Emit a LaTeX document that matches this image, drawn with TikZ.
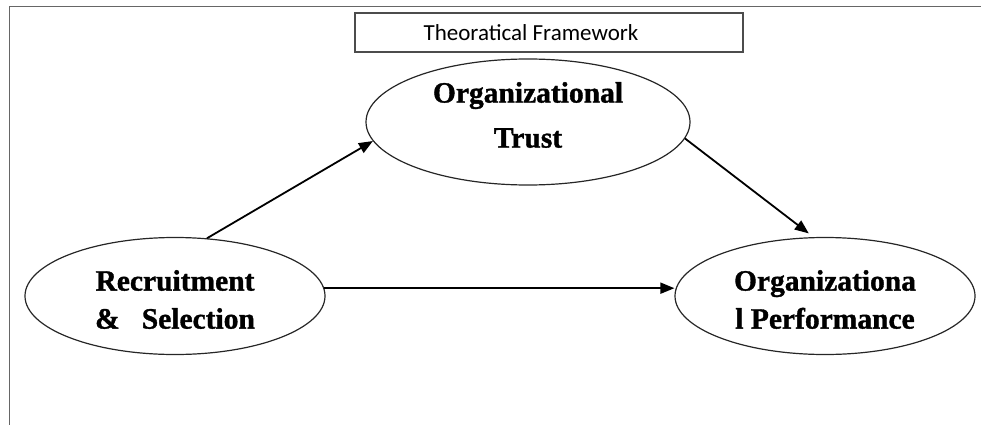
\documentclass[tikz,border=0pt]{standalone}
\usepackage{fontspec}
\setmainfont{Liberation Serif}
\newfontfamily\titlefont{Carlito}
\newfontfamily\heavyserif[FakeBold=1.2]{Liberation Serif Bold}
\usetikzlibrary{shapes.geometric,arrows.meta}
\begin{document}
\begin{tikzpicture}[x=1pt,y=-1pt,
  construct/.style={draw=black!85,line width=1.2pt,ellipse,inner sep=0pt},
  wording/.style={align=center,inner sep=0pt,
    font=\heavyserif\fontsize{29.5}{38}\selectfont},
  titlebox/.style={draw=black!70,line width=1.8pt,minimum width=388pt,
    minimum height=39pt,inner sep=0pt,font=\titlefont\fontsize{23}{26}\selectfont},
  link/.style={line width=1.8pt,-{Triangle[length=14pt,width=11pt]}},
  frame/.style={draw=black!60,line width=1.5pt}]
  \useasboundingbox (0,0) rectangle (981,425);
  % page frame
  \draw[frame] (9.5,425) -- (9.5,6.5) -- (981,6.5);
  % heading
  \node[titlebox] (title) at (549,32.5) {Theoratical Framework\hspace*{36pt}};
  % constructs
  \node[construct,minimum width=324pt,minimum height=126pt,
    label={[wording,font=\heavyserif\fontsize{29.5}{45}\selectfont,yshift=7pt]center:{Organizational\\Trust}}]
    (trust) at (528,122) {};
  \node[construct,minimum width=300pt,minimum height=117pt,
    label={[wording,yshift=-3.5pt]center:{Recruitment\\\&\ \ \ Selection}}]
    (rec) at (175,296) {};
  \node[construct,minimum width=300pt,minimum height=117pt,
    label={[wording,yshift=-3.5pt]center:{Organizationa\\l Performance}}]
    (perf) at (825,296) {};
  % relations
  \draw[link] (rec.61.5) -- (trust.187.7);
  \draw[link,shorten >=6pt] (trust.-6.9) -- (perf.101.5);
  \draw[link] (rec.3.5) -- (rec.3.5 -| perf.west);
\end{tikzpicture}
\end{document}
